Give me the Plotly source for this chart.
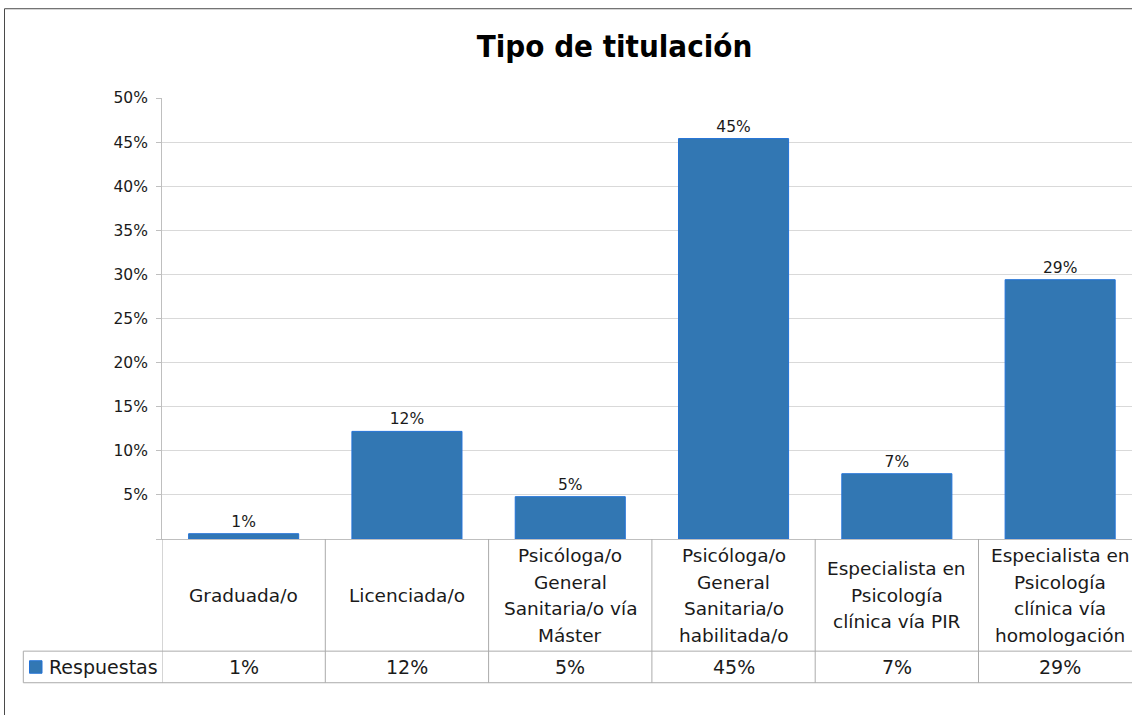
import plotly.graph_objects as go

# ---- data ----
categories = [
    "Graduada/o",
    "Licenciada/o",
    "Psicóloga/o<br>General<br>Sanitaria/o vía<br>Máster",
    "Psicóloga/o<br>General<br>Sanitaria/o<br>habilitada/o",
    "Especialista en<br>Psicología<br>clínica vía PIR",
    "Especialista en<br>Psicología<br>clínica vía<br>homologación",
]
values = [0.6, 12.2, 4.8, 45.4, 7.4, 29.4]
series_name = "Respuestas"
y_tickvals = [0, 5, 10, 15, 20, 25, 30, 35, 40, 45, 50]
y_ticktext = ["", "5%", "10%", "15%", "20%", "25%", "30%", "35%", "40%", "45%", "50%"]
title_text = "Tipo de titulación"

# ---- geometry (pixels) ----
W, H = 1132, 715
L, R = 162, 0
PLOT_TOP, PLOT_BOTTOM = 98.3, 539.5
T, B = PLOT_TOP, H - PLOT_BOTTOM
PW = W - L - R
PH = PLOT_BOTTOM - PLOT_TOP
CAT_W = 163.3


def py(p):
    return (PLOT_BOTTOM - p) / PH


def px(p):
    return (p - L) / PW


FONT = "DejaVu Sans"
BAR_FILL = "#3277B3"
BAR_LINE = "#2272D6"
TABLE_LINE = "#ABABAB"
TEXT = "#1A1A1A"

xs = list(range(len(categories)))

fig = go.Figure()
fig.add_trace(go.Bar(
    x=xs, y=values, name=series_name,
    marker=dict(color=BAR_FILL, line=dict(color=BAR_LINE, width=1)),
    text=values, texttemplate="%{y:.0f}%", textposition="outside",
    textfont=dict(family=FONT, size=15.5, color=TEXT),
    cliponaxis=False, showlegend=False, hoverinfo="skip",
))

shapes = []
annotations = []

# header / values table
ROW_TOP = 651.7
ROW_BOT = 683.3
HEADER_MID = 596.0
LINE_SP = 26.5
LEFT_CELL = 23.3

# vertical category boundaries
for i in range(len(categories)):
    shapes.append(dict(type="line", xref="x", yref="paper",
                       x0=i - 0.5, x1=i - 0.5, y0=py(PLOT_BOTTOM), y1=py(ROW_BOT),
                       line=dict(color=TABLE_LINE, width=1)))
# horizontal lines of value row
for yy in (ROW_TOP, ROW_BOT):
    shapes.append(dict(type="line", xref="paper", yref="paper",
                       x0=px(LEFT_CELL), x1=1.0, y0=py(yy), y1=py(yy),
                       line=dict(color=TABLE_LINE, width=1)))
# left edge of legend cell
shapes.append(dict(type="line", xref="paper", yref="paper",
                   x0=px(LEFT_CELL), x1=px(LEFT_CELL), y0=py(ROW_TOP), y1=py(ROW_BOT),
                   line=dict(color=TABLE_LINE, width=1)))
# legend key square
shapes.append(dict(type="rect", xref="paper", yref="paper",
                   x0=px(29.5), x1=px(42.0), y0=py(673.8), y1=py(661.3),
                   fillcolor=BAR_FILL, line=dict(color=BAR_LINE, width=1)))
annotations.append(dict(text=series_name, xref="paper", yref="paper",
                        x=px(47.0), y=py(667.3), xanchor="left", yanchor="middle",
                        showarrow=False, font=dict(family=FONT, size=19, color=TEXT)))

# category header labels (one annotation per line for exact spacing)
for i, cat in enumerate(categories):
    lines = cat.split("<br>")
    n = len(lines)
    for k, line in enumerate(lines):
        yc = HEADER_MID + (k - (n - 1) / 2) * LINE_SP
        annotations.append(dict(text=line, xref="x", yref="paper", x=i, y=py(yc),
                                xanchor="center", yanchor="middle", showarrow=False,
                                font=dict(family=FONT, size=18.5, color=TEXT)))
    annotations.append(dict(text=f"{round(values[i])}%", xref="x", yref="paper",
                            x=i, y=py(667.3), xanchor="center", yanchor="middle",
                            showarrow=False, font=dict(family=FONT, size=19, color=TEXT)))

# outer chart frame (left + top)
FRAME = "#4A4A4A"
shapes.append(dict(type="line", xref="paper", yref="paper",
                   x0=px(4.5), x1=px(4.5), y0=py(9), y1=py(H + 5),
                   line=dict(color=FRAME, width=1)))
shapes.append(dict(type="line", xref="paper", yref="paper",
                   x0=px(4.5), x1=px(W + 5), y0=py(9), y1=py(9),
                   line=dict(color=FRAME, width=1)))

fig.update_layout(
    width=W, height=H,
    margin=dict(l=L, r=R, t=T, b=B, pad=0),
    paper_bgcolor="white", plot_bgcolor="white",
    bargap=0.326,
    showlegend=False,
    title=dict(text=f"<b>{title_text}</b>", x=614.5 / W, xanchor="center",
               y=1 - 46 / H, yanchor="middle", yref="container",
               font=dict(family="DejaVu Sans Condensed, DejaVu Sans", size=31, color="#000000")),
    xaxis=dict(range=[-0.5, -0.5 + PW / CAT_W], showticklabels=False, showgrid=False,
               zeroline=False, showline=True, linecolor="#BFBFBF", linewidth=1,
               ticks="", fixedrange=True),
    yaxis=dict(range=[0, 50], tickvals=y_tickvals, ticktext=y_ticktext,
               showgrid=True, gridcolor="#D9D9D9", gridwidth=1, zeroline=False,
               showline=True, linecolor="#BFBFBF", linewidth=1,
               ticks="outside", ticklen=5, tickcolor="#BFBFBF",
               ticklabelstandoff=5,
               tickfont=dict(family=FONT, size=15.5, color=TEXT), fixedrange=True),
    shapes=shapes,
    annotations=annotations,
)

fig.write_html(
    "out.html",
    config={"displayModeBar": False, "staticPlot": True},
    post_script="document.body.style.margin='0';document.body.style.overflow='hidden';",
)
